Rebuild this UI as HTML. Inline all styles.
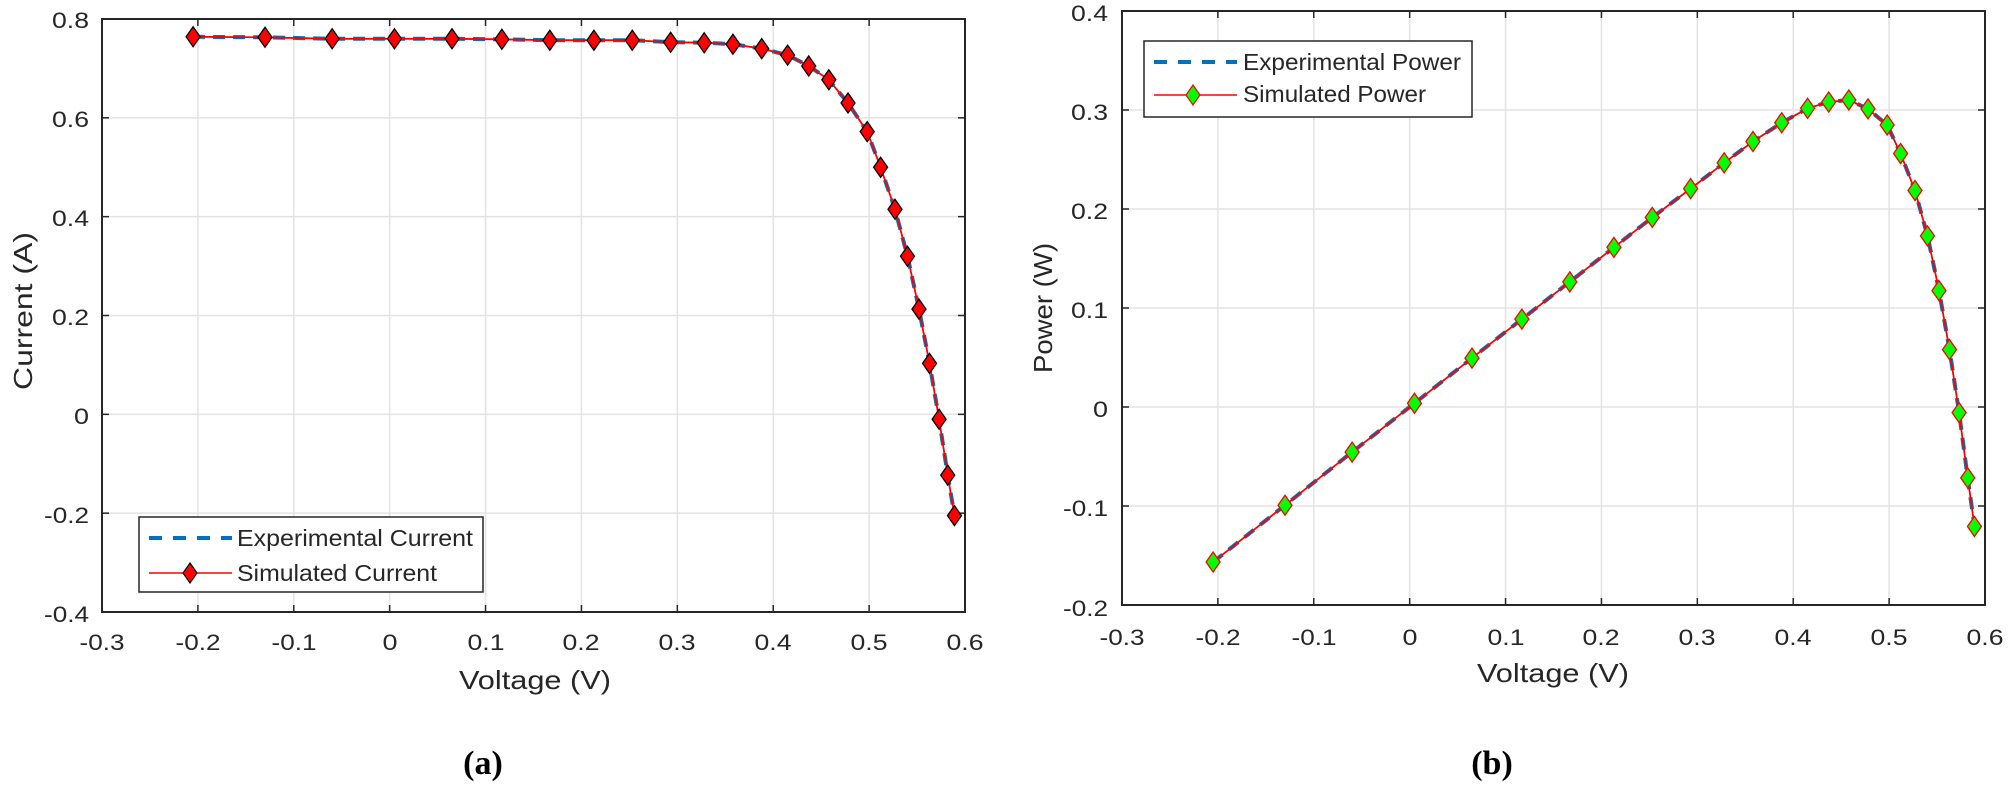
<!DOCTYPE html>
<html><head><meta charset="utf-8"><style>
html,body{margin:0;padding:0;background:#fff;}
svg{display:block;}
text{font-family:"Liberation Sans",Arial,sans-serif;fill:#262626;}
.t{font-size:22px;}
.lab{font-size:26px;}
.leg{font-size:23px;}
.cap{font-family:"Liberation Serif",serif;font-weight:bold;font-size:34px;fill:#000;}
</style></head><body>
<svg id="s" width="2008" height="790" viewBox="0 0 2008 790" xmlns="http://www.w3.org/2000/svg">
<g id="g1"></g>
<g class="t" text-anchor="end">
<text x="89" y="28" textLength="37" lengthAdjust="spacingAndGlyphs">0.8</text>
<text x="89" y="127" textLength="37" lengthAdjust="spacingAndGlyphs">0.6</text>
<text x="89" y="226" textLength="37" lengthAdjust="spacingAndGlyphs">0.4</text>
<text x="89" y="325" textLength="37" lengthAdjust="spacingAndGlyphs">0.2</text>
<text x="89" y="424" textLength="15" lengthAdjust="spacingAndGlyphs">0</text>
<text x="89" y="523" textLength="45" lengthAdjust="spacingAndGlyphs">-0.2</text>
<text x="89" y="622" textLength="45" lengthAdjust="spacingAndGlyphs">-0.4</text>
</g>
<g class="t" text-anchor="middle">
<text x="102" y="650" textLength="45" lengthAdjust="spacingAndGlyphs">-0.3</text>
<text x="198" y="650" textLength="45" lengthAdjust="spacingAndGlyphs">-0.2</text>
<text x="294" y="650" textLength="45" lengthAdjust="spacingAndGlyphs">-0.1</text>
<text x="390" y="650" textLength="15" lengthAdjust="spacingAndGlyphs">0</text>
<text x="486" y="650" textLength="37" lengthAdjust="spacingAndGlyphs">0.1</text>
<text x="581" y="650" textLength="37" lengthAdjust="spacingAndGlyphs">0.2</text>
<text x="677" y="650" textLength="37" lengthAdjust="spacingAndGlyphs">0.3</text>
<text x="773" y="650" textLength="37" lengthAdjust="spacingAndGlyphs">0.4</text>
<text x="869" y="650" textLength="37" lengthAdjust="spacingAndGlyphs">0.5</text>
<text x="965" y="650" textLength="37" lengthAdjust="spacingAndGlyphs">0.6</text>
</g>
<text class="lab" x="535" y="689" text-anchor="middle" textLength="152" lengthAdjust="spacingAndGlyphs">Voltage (V)</text>
<text class="lab" transform="translate(32,311) rotate(-90)" text-anchor="middle" textLength="158" lengthAdjust="spacingAndGlyphs">Current (A)</text>
<text class="cap" x="483" y="774" text-anchor="middle">(a)</text>
<g class="t" text-anchor="end">
<text x="1108" y="21" textLength="37" lengthAdjust="spacingAndGlyphs">0.4</text>
<text x="1108" y="120" textLength="37" lengthAdjust="spacingAndGlyphs">0.3</text>
<text x="1108" y="219" textLength="37" lengthAdjust="spacingAndGlyphs">0.2</text>
<text x="1108" y="318" textLength="37" lengthAdjust="spacingAndGlyphs">0.1</text>
<text x="1108" y="417" textLength="15" lengthAdjust="spacingAndGlyphs">0</text>
<text x="1108" y="516" textLength="45" lengthAdjust="spacingAndGlyphs">-0.1</text>
<text x="1108" y="616" textLength="45" lengthAdjust="spacingAndGlyphs">-0.2</text>
</g>
<g class="t" text-anchor="middle">
<text x="1122" y="645" textLength="45" lengthAdjust="spacingAndGlyphs">-0.3</text>
<text x="1218" y="645" textLength="45" lengthAdjust="spacingAndGlyphs">-0.2</text>
<text x="1314" y="645" textLength="45" lengthAdjust="spacingAndGlyphs">-0.1</text>
<text x="1410" y="645" textLength="15" lengthAdjust="spacingAndGlyphs">0</text>
<text x="1506" y="645" textLength="37" lengthAdjust="spacingAndGlyphs">0.1</text>
<text x="1601" y="645" textLength="37" lengthAdjust="spacingAndGlyphs">0.2</text>
<text x="1697" y="645" textLength="37" lengthAdjust="spacingAndGlyphs">0.3</text>
<text x="1793" y="645" textLength="37" lengthAdjust="spacingAndGlyphs">0.4</text>
<text x="1889" y="645" textLength="37" lengthAdjust="spacingAndGlyphs">0.5</text>
<text x="1985" y="645" textLength="37" lengthAdjust="spacingAndGlyphs">0.6</text>
</g>
<text class="lab" x="1553" y="682" text-anchor="middle" textLength="152" lengthAdjust="spacingAndGlyphs">Voltage (V)</text>
<text class="lab" transform="translate(1052,308) rotate(-90)" text-anchor="middle" textLength="130" lengthAdjust="spacingAndGlyphs">Power (W)</text>
<text class="cap" x="1492" y="774" text-anchor="middle">(b)</text>
<rect x="139" y="517" width="344" height="75" fill="#fff" stroke="#262626" stroke-width="1.5"/>
<line x1="149" y1="538" x2="232" y2="538" stroke="#0072BD" stroke-width="4" stroke-dasharray="13,11"/>
<line x1="149" y1="573" x2="232" y2="573" stroke="#ff0000" stroke-width="1.5"/>
<polygon points="190,563 197,573 190,583 183,573" fill="#ff0000" stroke="#000" stroke-width="1.2"/>
<text class="leg" x="237" y="546" textLength="236" lengthAdjust="spacingAndGlyphs">Experimental Current</text>
<text class="leg" x="237" y="581" textLength="200" lengthAdjust="spacingAndGlyphs">Simulated Current</text>
<rect x="1144" y="41" width="328" height="76" fill="#fff" stroke="#262626" stroke-width="1.5"/>
<line x1="1154" y1="62" x2="1237" y2="62" stroke="#0072BD" stroke-width="4" stroke-dasharray="13,11"/>
<line x1="1154" y1="95" x2="1237" y2="95" stroke="#ff0000" stroke-width="1.5"/>
<polygon points="1193,85 1200,95 1193,105 1186,95" fill="#00ff00" stroke="#ff0000" stroke-width="1.2"/>
<text class="leg" x="1243" y="70" textLength="218" lengthAdjust="spacingAndGlyphs">Experimental Power</text>
<text class="leg" x="1243" y="102" textLength="183" lengthAdjust="spacingAndGlyphs">Simulated Power</text>
</svg>
<script>
var V=[-0.205,-0.13,-0.06,0.005,0.065,0.117,0.167,0.213,0.253,0.293,0.328,0.358,0.388,0.415,0.437,0.458,0.478,0.498,0.512,0.527,0.54,0.552,0.563,0.573,0.582,0.589];
var I=[0.764,0.763,0.76,0.76,0.76,0.759,0.757,0.757,0.757,0.753,0.752,0.749,0.74,0.727,0.705,0.677,0.63,0.572,0.5,0.415,0.32,0.213,0.103,-0.01,-0.123,-0.205];
var g=document.getElementById('g1'),h='';
function plot(x0,x1,y0,y1,ymin,ymax,ystep,Y,fill,edge){
 var sx=function(v){return x0+(v+0.3)/0.9*(x1-x0)},sy=function(v){return y1-(v-ymin)/(ymax-ymin)*(y1-y0)};
 for(var v=-0.2;v<0.55;v+=0.1){var x=sx(v);h+='<line x1="'+x+'" y1="'+y0+'" x2="'+x+'" y2="'+y1+'" stroke="#e3e3e3" stroke-width="1.5"/>';}
 for(var k=1;k<Math.round((ymax-ymin)/ystep);k++){var y=sy(ymin+k*ystep);h+='<line x1="'+x0+'" y1="'+y+'" x2="'+x1+'" y2="'+y+'" stroke="#e3e3e3" stroke-width="1.5"/>';}
 for(var v=-0.3;v<0.65;v+=0.1){var x=sx(v);h+='<line x1="'+x+'" y1="'+y1+'" x2="'+x+'" y2="'+(y1-7)+'" stroke="#262626" stroke-width="1.5"/><line x1="'+x+'" y1="'+y0+'" x2="'+x+'" y2="'+(y0+7)+'" stroke="#262626" stroke-width="1.5"/>';}
 for(var k=0;k<=Math.round((ymax-ymin)/ystep);k++){var y=sy(ymin+k*ystep);h+='<line x1="'+x0+'" y1="'+y+'" x2="'+(x0+7)+'" y2="'+y+'" stroke="#262626" stroke-width="1.5"/><line x1="'+x1+'" y1="'+y+'" x2="'+(x1-7)+'" y2="'+y+'" stroke="#262626" stroke-width="1.5"/>';}
 var p=V.map(function(v,i){return sx(v).toFixed(1)+','+sy(Y[i]).toFixed(1)}).join(' ');
 h+='<polyline points="'+p+'" fill="none" stroke="#0072BD" stroke-width="4" stroke-dasharray="12,8"/>';
 h+='<polyline points="'+p+'" fill="none" stroke="#ff0000" stroke-width="1.8"/>';
 V.forEach(function(v,i){var x=sx(v),y=sy(Y[i]);h+='<polygon points="'+x+','+(y-10)+' '+(x+7)+','+y+' '+x+','+(y+10)+' '+(x-7)+','+y+'" fill="'+fill+'" stroke="'+edge+'" stroke-width="1.3"/>';});
 h+='<rect x="'+x0+'" y="'+y0+'" width="'+(x1-x0)+'" height="'+(y1-y0)+'" fill="none" stroke="#262626" stroke-width="2"/>';
}
plot(102,965,19,612,-0.4,0.8,0.2,I,'#ff0000','#000');
plot(1122,1985,11,605,-0.2,0.4,0.1,V.map(function(v,i){return v*I[i]}),'#00ff00','#ff0000');
g.innerHTML=h;
</script>
</body></html>
